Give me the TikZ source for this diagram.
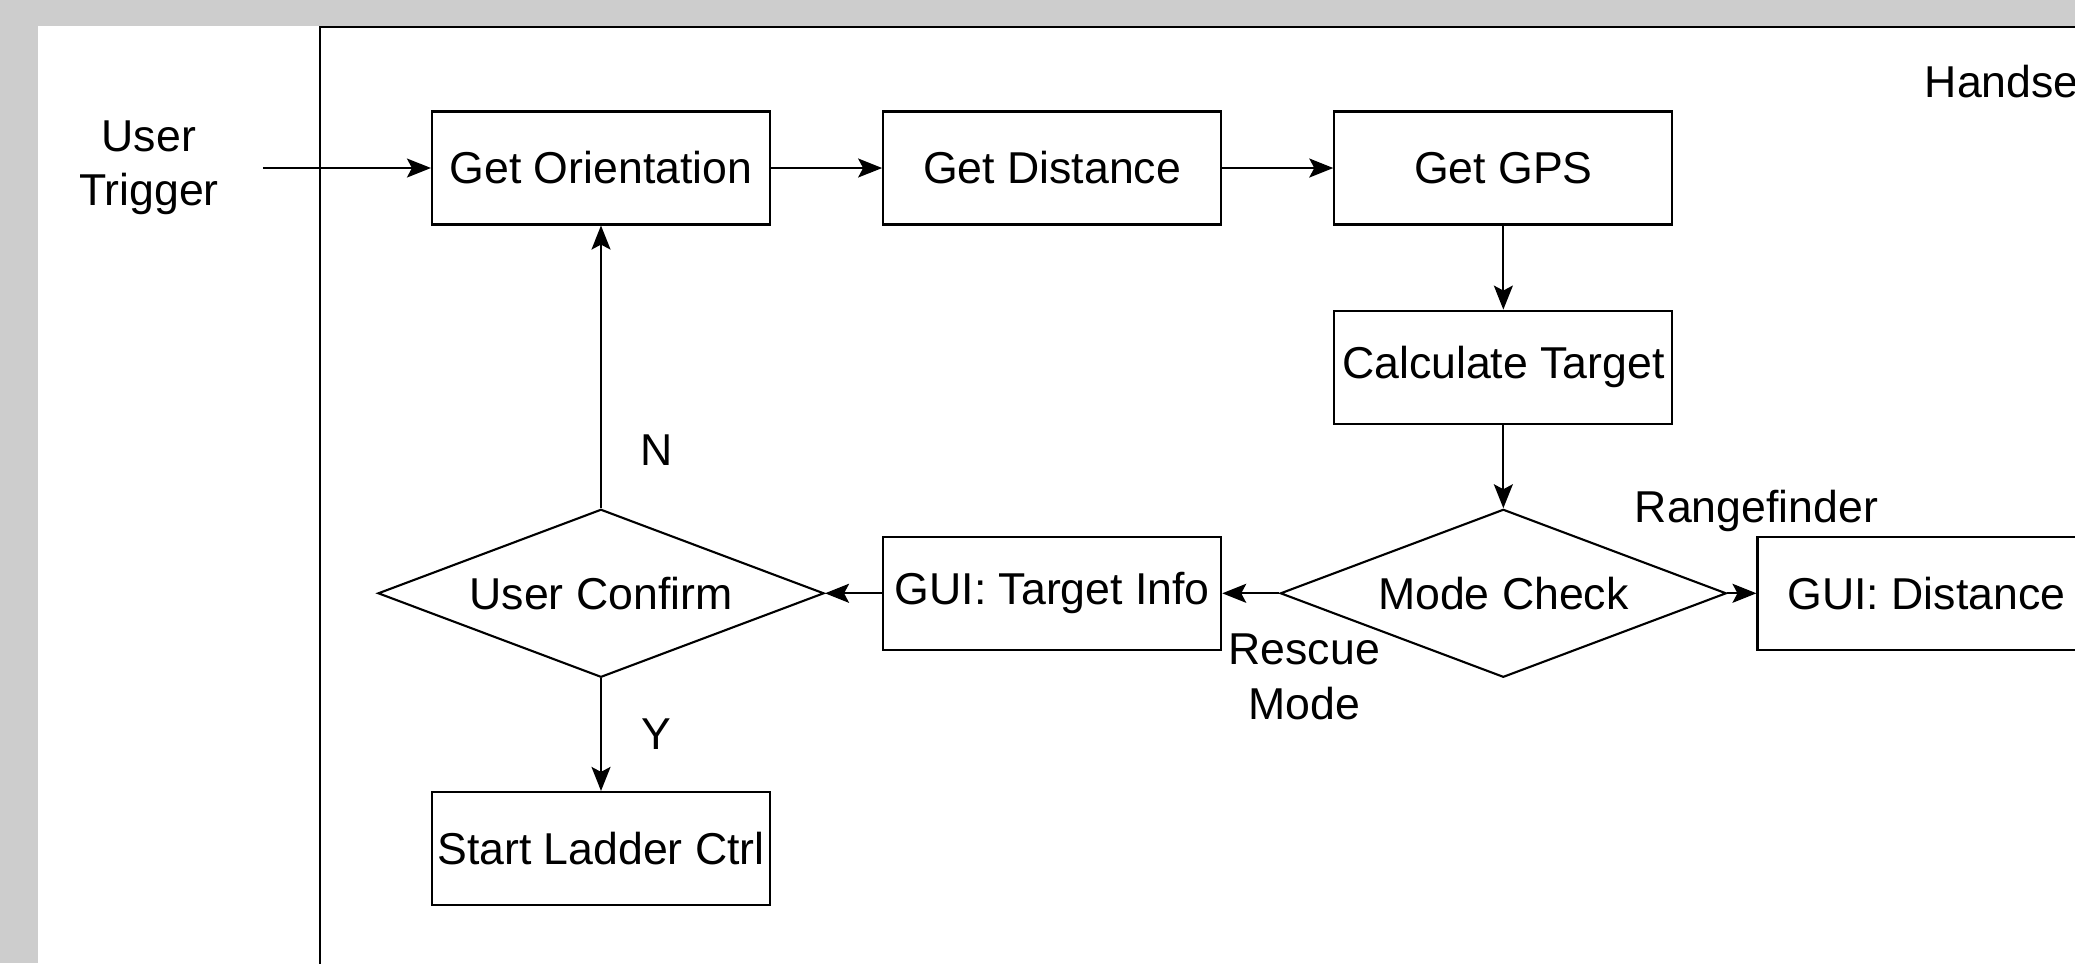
\documentclass[tikz,border=0pt]{standalone}
\usepackage{fontspec}
\setmainfont{Liberation Sans}
\usetikzlibrary{matrix,arrows.meta,shapes.geometric,positioning}
\definecolor{pagegray}{RGB}{205,205,205}
\tikzset{
	stepbox/.style={draw, rectangle, inner sep=1pt, minimum width=3.38cm, minimum height=1.13cm},
	choice/.style={draw, diamond, aspect=2.65, minimum width=4.46cm, minimum height=1.68cm},
}

\begin{document}
\begin{tikzpicture}[line width=0.6pt, font=\fontsize{12.7}{15.4}\selectfont,
		>={Stealth[length=0.24cm, width=0.19cm, inset=0.05cm]}]
			\useasboundingbox (0,0) rectangle (20.75,-9.63);
			\clip (0,0) rectangle (20.75,-9.63);
			\fill[pagegray] (0,0) rectangle (20.75,-9.63);
			\fill[white] (0.38,-0.26) rectangle (20.75,-9.63);
			\draw[line width=0.8pt] (3.20,-0.27) rectangle (21.5,-10.5);
			\node[anchor=west] (handset) at (19.12,-0.82) {Handset};
			\matrix (f) [matrix of nodes, row sep=0.84cm, column sep=0.295cm, nodes={anchor=center}, matrix anchor=f-1-1.center] at (6.01,-1.68)
			{
				|[stepbox]| Get Orientation &[0.28cm] |[stepbox]| Get Distance &[0.28cm] |[stepbox]| Get GPS & \\
				& & |[stepbox]| Calculate Target & \\
				|[choice]| User Confirm & |[stepbox]| GUI: Target Info & |[choice]| Mode Check & |[stepbox]| GUI: Distance \\[0.29cm]
				|[stepbox]| Start Ladder Ctrl & & & \\
			};
			\node[align=center, minimum width=2.26cm, left=1.68cm of f-1-1] (trigger) {User\\Trigger};
			\path[->]
			(trigger) edge (f-1-1)
			(f-1-1) edge (f-1-2)
			(f-1-2) edge (f-1-3)
			(f-1-3) edge (f-2-3)
			(f-2-3) edge (f-3-3)
			(f-3-3) edge node[pos=0, align=center, xshift=0.25cm, yshift=-0.835cm]{Rescue\\Mode} (f-3-2)
					edge node[pos=1, yshift=0.82cm]{Rangefinder} (f-3-4)
			(f-3-2) edge (f-3-1)
			(f-3-1) edge node[pos=0.207, xshift=0.56cm]{N} (f-1-1)
					edge node[pos=0.5, xshift=0.55cm]{Y} (f-4-1);
		\end{tikzpicture}
\end{document}
